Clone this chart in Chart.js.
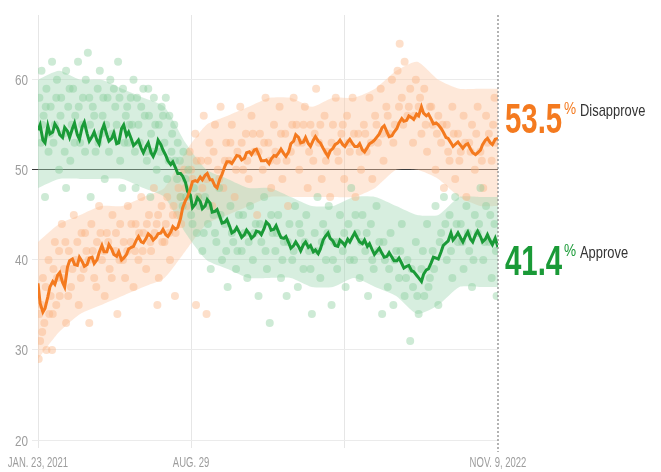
<!DOCTYPE html>
<html>
<head>
<meta charset="utf-8">
<script src="https://cdn.jsdelivr.net/npm/chart.js@4"></script>
<style>
html,body{margin:0;padding:0;background:#fff;}
#wrap{width:661px;height:472px;position:relative;}
</style>
</head>
<body>
<div id="wrap"><canvas id="c" width="661" height="472"></canvas></div>
<script>
// ---- Data (days since Jan. 23, 2021) ----
const tickDays = [0, 218, 436, 655];
const tickLabels = ["JAN. 23, 2021", "AUG. 29", "", "NOV. 9, 2022"];
const yTicks = [20, 30, 40, 50, 60];

// weekly readings of the polling average
const days = [0,7,14,21,28,35,42,49,56,63,70,77,84,91,98,105,112,119,126,133,140,147,154,161,168,175,182,189,196,203,210,217,224,231,238,245,252,259,266,273,280,287,294,301,308,315,322,329,336,343,350,357,364,371,378,385,392,399,406,413,420,427,434,441,448,455,462,469,476,483,490,497,504,511,518,525,532,539,546,553,560,567,574,581,588,595,602,609,616,623,630,637,644,651,655];

const approve = [54.4,53.3,54.9,54.2,54.6,53.6,54.3,54.6,53.9,54.8,54.0,53.7,53.3,54.4,53.9,53.5,52.9,54.6,53.8,53.4,53.0,52.4,52.6,51.9,52.2,52.8,51.6,50.6,50.2,49.6,48.6,47.2,46.2,46.5,46.0,46.3,45.4,44.8,44.2,43.7,43.2,43.0,42.8,42.9,42.7,43.1,43.5,43.9,43.4,43.0,42.4,41.9,41.6,41.5,41.7,41.4,40.9,40.7,42.2,43.0,42.1,41.5,41.9,42.3,42.6,42.4,41.8,41.5,41.1,41.0,40.7,40.4,40.3,39.9,39.6,39.3,38.8,38.3,37.6,38.9,39.7,40.2,40.9,41.9,43.0,42.6,42.4,42.7,42.3,42.8,42.6,42.3,42.1,42.4,41.4];

const disapprove = [37.4,34.2,35.9,37.6,38.3,37.5,39.2,40.1,39.4,39.8,39.5,40.3,40.0,41.6,40.9,41.2,40.4,40.0,40.6,41.4,42.2,42.0,42.4,42.6,42.5,43.0,42.8,43.1,43.4,44.6,46.6,47.9,48.8,49.2,49.4,48.9,48.2,49.0,50.4,50.9,51.2,51.5,51.3,52.0,52.2,51.6,51.0,50.7,51.6,51.9,51.8,52.0,53.2,53.6,53.1,52.9,53.3,53.2,52.4,51.5,52.4,53.0,52.8,53.1,52.9,52.6,52.2,52.5,53.1,53.7,54.7,54.2,53.8,54.6,55.7,55.5,55.8,56.2,57.0,56.0,55.6,55.2,54.6,53.6,53.0,52.9,52.7,52.8,52.3,51.7,52.2,53.3,53.0,53.4,53.5];

// mid-week readings (day 3, 10, 17, ... 647)
const midDays = [3,10,17,24,31,38,45,52,59,66,73,80,87,94,101,108,115,122,129,136,143,150,157,164,171,178,185,192,199,206,213,220,227,234,241,248,255,262,269,276,283,290,297,304,311,318,325,332,339,346,353,360,367,374,381,388,395,402,409,416,423,430,437,444,451,458,465,472,479,486,493,500,507,514,521,528,535,542,549,556,563,570,577,584,591,598,605,612,619,626,633,640,647];

const approveMid = [55.0,53.0,54.0,55.1,53.9,54.7,53.6,55.2,53.4,55.3,53.2,54.2,52.9,55.0,53.2,54.1,53.0,55.0,54.2,52.7,53.3,51.9,53.0,51.5,53.3,52.2,51.0,50.9,49.6,49.3,47.6,45.8,46.9,45.7,46.7,45.3,45.6,44.1,44.5,43.0,43.6,42.5,43.3,42.4,43.2,42.8,44.2,43.3,43.8,42.5,42.6,41.3,42.0,41.0,42.0,41.6,41.1,41.2,42.6,42.4,41.6,42.2,41.6,42.0,43.0,42.0,42.2,41.8,40.6,41.3,40.3,40.8,39.9,40.2,39.1,39.4,38.7,38.0,38.4,39.0,40.3,40.1,41.6,42.1,42.2,43.0,42.0,43.1,42.0,43.2,42.0,42.8,41.7];

const disapproveMid = [35.2,34.6,37.0,37.3,38.6,37.0,39.9,39.5,40.3,39.3,40.2,39.6,40.8,40.9,41.7,40.6,40.9,40.2,41.2,41.5,42.6,41.9,42.9,42.2,42.9,43.4,42.6,43.7,43.6,45.8,47.0,48.7,48.7,48.9,49.6,48.9,48.0,49.5,50.9,50.7,51.6,51.1,51.9,51.7,52.3,51.0,51.1,51.2,51.5,52.3,51.5,52.9,53.9,53.0,53.6,52.6,53.7,53.0,52.0,52.1,52.8,53.3,52.6,53.4,52.6,52.9,52.0,52.9,53.3,54.0,54.9,53.7,54.2,55.2,55.4,56.0,55.6,56.0,56.3,56.2,55.1,55.0,54.2,53.5,52.6,53.1,52.4,52.9,51.9,51.9,52.8,53.5,52.8];

// spread of individual polls (shaded band)
const bandDays      = [0, 30, 60, 90, 120, 150, 180, 210, 240, 270, 300, 330, 360, 390, 420, 450, 480, 510, 540, 570, 600, 630, 655];
const approveHigh   = [60, 61, 60, 60, 59, 58, 57, 53, 50, 49, 48, 48, 47, 46, 46, 47, 47, 46, 45, 45, 47, 47, 47];
const approveLow    = [48, 49, 49, 49, 49, 48, 47, 43, 40, 39, 38, 38, 38, 37, 37, 38, 37, 36, 34, 35, 37, 37, 37];
const disapproveHigh= [42, 44, 45, 46, 46, 47, 48, 52, 55, 56, 57, 58, 58, 57, 58, 58, 59, 61, 62, 60, 59, 59, 59];
const disapproveLow = [29, 32, 34, 35, 36, 37, 38, 41, 44, 45, 46, 47, 47, 47, 47, 47, 48, 50, 50, 49, 47, 46, 46];

// individual polls [day, value]
const approvePolls = [[2,58],[5,61],[8,56],[12,59],[15,52],[18,57],[20,62],[24,55],[27,60],[30,50],[33,58],[36,54],[40,61],[43,57],[46,51],[50,59],[53,56],[57,62],[60,53],[64,58],[68,60],[71,63],[74,55],[78,57],[82,52],[85,59],[88,61],[92,56],[95,49],[99,58],[103,60],[106,54],[110,57],[114,62],[117,51],[121,59],[125,56],[128,53],[132,58],[136,60],[139,48],[143,55],[147,57],[150,59],[154,52],[158,56],[161,54],[165,58],[169,50],[172,55],[176,57],[180,53],[184,49],[187,56],[191,54],[195,51],[199,53],[203,47],[207,52],[210,49],[214,50],[10,47],[40,48],[75,47],[120,48],[160,47],[6,55],[22,53],[48,55],[90,54],[130,55],[155,51],
[4,53],[11,57],[17,54],[26,58],[32,56],[38,52],[45,59],[52,53],[58,57],[63,55],[67,52],[73,58],[80,56],[86,53],[93,58],[97,55],[101,52],[108,59],[112,55],[116,58],[123,53],[127,57],[134,55],[138,52],[141,58],[145,53],[152,56],[157,59],[163,52],[167,55],[174,52],[178,56],[182,58],[186,51],[190,52],[194,55],[198,49],[202,51],[206,46],[211,47],
[218,45],[222,48],[226,43],[230,46],[234,41],[238,47],[242,44],[246,39],[250,45],[254,42],[258,48],[262,40],[266,44],[270,37],[274,46],[278,42],[282,39],[286,45],[290,41],[294,43],[298,38],[302,46],[306,40],[310,44],[314,36],[318,42],[322,47],[326,39],[330,33],[334,43],[338,41],[342,45],[346,38],[350,42],[354,36],[358,44],[362,40],[366,46],[370,37],[374,43],[378,39],[382,45],[386,41],[390,34],[394,43],[398,47],[402,38],[406,44],[410,40],[414,46],[418,35],[422,42],[426,39],[430,45],[434,41],[438,37],[442,44],[446,48],[450,40],[454,43],[458,38],[462,45],[466,41],[470,36],[474,44],[478,39],[482,46],[486,42],[490,34],[494,40],[498,37],[502,43],[506,35],[510,41],[514,38],[518,44],[522,36],[526,40],[530,31],[534,37],[538,42],[542,34],[546,39],[550,36],[554,44],[558,38],[562,41],[566,46],[570,35],[574,43],[578,47],[582,40],[586,45],[590,38],[594,47],[598,42],[602,44],[606,39],[610,46],[614,41],[618,37],[622,45],[626,43],[630,48],[634,40],[638,46],[642,42],[646,38],[650,44],[653,36],
[220,44],[228,47],[236,43],[244,46],[252,43],[260,45],[268,41],[276,43],[284,41],[292,45],[300,42],[308,43],[316,44],[324,41],[332,45],[340,43],[348,40],[356,42],[364,41],[372,44],[380,42],[388,39],[396,41],[404,42],[412,43],[420,40],[428,42],[436,43],[444,40],[452,45],[460,42],[468,43],[476,40],[484,41],[492,42],[500,39],[508,40],[516,41],[524,38],[532,39],[540,36],[548,41],[556,37],[564,39],[572,42],[580,44],[588,41],[596,44],[604,42],[612,43],[620,40],[628,44],[636,42],[644,45],[652,41]];

const disapprovePolls = [[1,29],[3,31],[5,35],[7,38],[9,33],[12,30],[15,40],[18,36],[21,34],[24,42],[27,38],[31,36],[34,44],[37,39],[40,33],[44,41],[47,37],[51,45],[54,40],[58,35],[62,43],[65,39],[69,41],[73,33],[76,44],[80,38],[84,42],[87,46],[91,40],[95,36],[98,43],[102,39],[106,45],[110,41],[113,34],[117,44],[121,40],[124,38],[128,46],[132,42],[136,37],[139,44],[143,40],[147,47],[150,43],[154,39],[158,45],[161,41],[165,48],[169,44],[172,38],[176,46],[180,42],[184,47],[188,40],[192,45],[196,43],[200,48],[204,44],[208,50],[212,46],[195,36],[225,35],[240,34],[170,35],[20,30],
[2,34],[6,32],[11,37],[16,34],[22,39],[26,35],[30,41],[35,38],[39,42],[43,36],[49,39],[56,42],[61,38],[67,43],[72,40],[78,41],[83,37],[89,43],[94,41],[100,42],[105,38],[111,43],[116,40],[122,42],[127,41],[133,44],[138,41],[144,43],[149,41],[155,44],[160,42],[166,43],[171,45],[177,42],[182,44],[187,43],[193,46],[198,45],[203,47],[210,48],
[216,52],[220,49],[224,54],[228,47],[232,51],[236,56],[240,49],[244,53],[248,46],[252,55],[256,50],[260,57],[264,48],[268,53],[272,51],[276,55],[280,47],[284,52],[288,57],[292,50],[296,54],[300,49],[304,56],[308,52],[312,45],[316,54],[320,50],[324,58],[328,53],[332,48],[336,55],[340,51],[344,57],[348,49],[352,54],[356,46],[360,52],[364,58],[368,55],[372,50],[376,53],[380,57],[384,48],[388,55],[392,51],[396,59],[400,53],[404,49],[408,56],[412,52],[416,47],[420,55],[424,58],[428,51],[432,54],[436,49],[440,56],[444,52],[448,58],[452,47],[456,54],[460,50],[464,55],[468,52],[472,58],[476,49],[480,56],[484,53],[488,59],[492,51],[496,57],[500,54],[504,60],[508,55],[512,61],[515,64],[518,58],[522,62],[526,56],[530,59],[534,53],[538,60],[542,57],[546,54],[550,59],[554,52],[558,57],[562,55],[566,50],[570,56],[574,53],[578,48],[582,55],[586,51],[590,57],[594,49],[598,54],[602,52],[606,56],[610,47],[614,53],[618,55],[622,50],[626,57],[630,52],[634,48],[638,56],[642,54],[646,51],[650,58],[653,53],
[218,50],[226,51],[234,48],[242,51],[250,52],[258,49],[266,51],[274,53],[282,50],[290,53],[298,51],[306,54],[314,52],[322,53],[330,51],[338,52],[346,54],[354,51],[362,55],[370,53],[378,55],[386,52],[394,54],[402,55],[410,51],[418,53],[426,52],[434,55],[442,53],[450,54],[458,52],[466,54],[474,53],[482,55],[490,54],[498,56],[506,53],[514,57],[520,55],[528,57],[536,56],[544,58],[552,55],[560,57],[568,54],[576,55],[584,52],[592,54],[600,51],[608,53],[616,52],[624,54],[632,51],[640,53],[648,55]];

const finalDisapprove = "53.5";
const finalApprove = "41.4";

// ---- Styles ----
const GREEN = '#1a9a37';
const ORANGE = '#f47a1f';
const SANS = '"Liberation Sans", Arial, sans-serif';

const pts = (xs, ys) => xs.map((x, i) => ({x: x, y: ys[i]}));
const pairPts = arr => arr.map(p => ({x: p[0], y: p[1]}));
// interleave weekly and mid-week readings into one table
function series(wDays, wVals, mDays, mVals) {
  const out = [];
  wDays.forEach((d, i) => {
    out.push({x: d, y: wVals[i]});
    if (i < mDays.length) out.push({x: mDays[i], y: mVals[i]});
  });
  return out;
}

// draw condensed text (horizontal squeeze)
function squeezed(ctx, txt, x, y, font, color, sx, align) {
  ctx.save();
  ctx.font = font;
  ctx.fillStyle = color;
  ctx.textBaseline = 'alphabetic';
  const w = ctx.measureText(txt).width * sx;
  let left = x;
  if (align === 'center') left = x - w / 2;
  else if (align === 'right') left = x - w;
  ctx.translate(left, y);
  ctx.scale(sx, 1);
  ctx.fillText(txt, 0, 0);
  ctx.restore();
}

const textPlugin = {
  id: 'textPlugin',
  afterDraw(chart) {
    const ctx = chart.ctx;
    const x = chart.scales.x, y = chart.scales.y;
    const xEnd = x.getPixelForValue(655);
    const ca = chart.chartArea;
    // dotted "today" line
    ctx.save();
    ctx.strokeStyle = '#9a9a9a';
    ctx.lineWidth = 1.5;
    ctx.setLineDash([2, 2]);
    ctx.beginPath();
    ctx.moveTo(xEnd, ca.top);
    ctx.lineTo(xEnd, ca.bottom + 12);
    ctx.stroke();
    ctx.restore();

    // axis tick labels
    yTicks.forEach(v => {
      squeezed(ctx, String(v), ca.left - 10, y.getPixelForValue(v) + 5.5, '15px ' + SANS, '#9d9d9d', 0.78, 'right');
    });
    tickDays.forEach((d, i) => {
      if (tickLabels[i]) squeezed(ctx, tickLabels[i], x.getPixelForValue(d), ca.bottom + 27, '14px ' + SANS, '#9d9d9d', 0.68, 'center');
    });

    function label(value, word, color, baseY) {
      const left = xEnd + 7;
      squeezed(ctx, value, left, baseY, 'bold 42px ' + SANS, color, 0.70, 'left');
      squeezed(ctx, '%', left + 59, baseY - 19, '17px ' + SANS, color, 0.8, 'left');
      squeezed(ctx, word, left + 75, baseY - 17, '17px ' + SANS, '#333', 0.76, 'left');
    }
    label(finalDisapprove, 'Disapprove', ORANGE, y.getPixelForValue(53.5) - 5);
    label(finalApprove, 'Approve', GREEN, y.getPixelForValue(41.4) + 28);
  }
};

new Chart(document.getElementById('c'), {
  type: 'scatter',
  data: {
    datasets: [
      { type: 'line', data: series(days, disapprove, midDays, disapproveMid), borderColor: ORANGE, borderWidth: 3, pointRadius: 0, tension: 0, fill: false, order: 0 },
      { type: 'line', data: series(days, approve, midDays, approveMid), borderColor: GREEN, borderWidth: 3, pointRadius: 0, tension: 0, fill: false, order: 0 },
      { data: pairPts(approvePolls), backgroundColor: 'rgba(135,205,155,0.42)', borderWidth: 0, pointRadius: 4, order: 1 },
      { data: pairPts(disapprovePolls), backgroundColor: 'rgba(250,178,128,0.42)', borderWidth: 0, pointRadius: 4, order: 1 },
      { type: 'line', data: pts(bandDays, approveHigh), borderWidth: 0, pointRadius: 0, tension: 0.2, fill: '+1', backgroundColor: 'rgba(160,215,178,0.42)', order: 2 },
      { type: 'line', data: pts(bandDays, approveLow), borderWidth: 0, pointRadius: 0, tension: 0.2, fill: false, order: 2 },
      { type: 'line', data: pts(bandDays, disapproveHigh), borderWidth: 0, pointRadius: 0, tension: 0.2, fill: '+1', backgroundColor: 'rgba(252,200,165,0.42)', order: 3 },
      { type: 'line', data: pts(bandDays, disapproveLow), borderWidth: 0, pointRadius: 0, tension: 0.2, fill: false, order: 3 }
    ]
  },
  options: {
    responsive: false,
    animation: false,
    events: [],
    layout: { padding: { left: 0, right: 163, top: 15, bottom: 0 } },
    plugins: { legend: { display: false }, tooltip: { enabled: false } },
    scales: {
      x: {
        type: 'linear', min: 0, max: 655,
        afterBuildTicks: s => { s.ticks = tickDays.map(v => ({value: v})); },
        afterFit: s => { s.height = 32; s.paddingLeft = 0; s.paddingRight = 0; },
        border: { display: false },
        grid: {
          color: ctx => ctx.index === 3 ? 'rgba(0,0,0,0)' : '#e6e6e6',
          lineWidth: 1, tickLength: 8
        },
        ticks: { display: false }
      },
      y: {
        type: 'linear', min: 20, max: 67.2,
        afterBuildTicks: s => { s.ticks = yTicks.map(v => ({value: v})); },
        afterFit: s => { s.width = 38; s.paddingTop = 0; s.paddingBottom = 0; },
        border: { display: false },
        grid: {
          color: ctx => ctx.tick && ctx.tick.value === 50 ? '#3a3a3a' : '#ebebeb',
          lineWidth: 1, tickLength: 6
        },
        ticks: { display: false }
      }
    }
  },
  plugins: [textPlugin]
});
</script>
</body>
</html>
